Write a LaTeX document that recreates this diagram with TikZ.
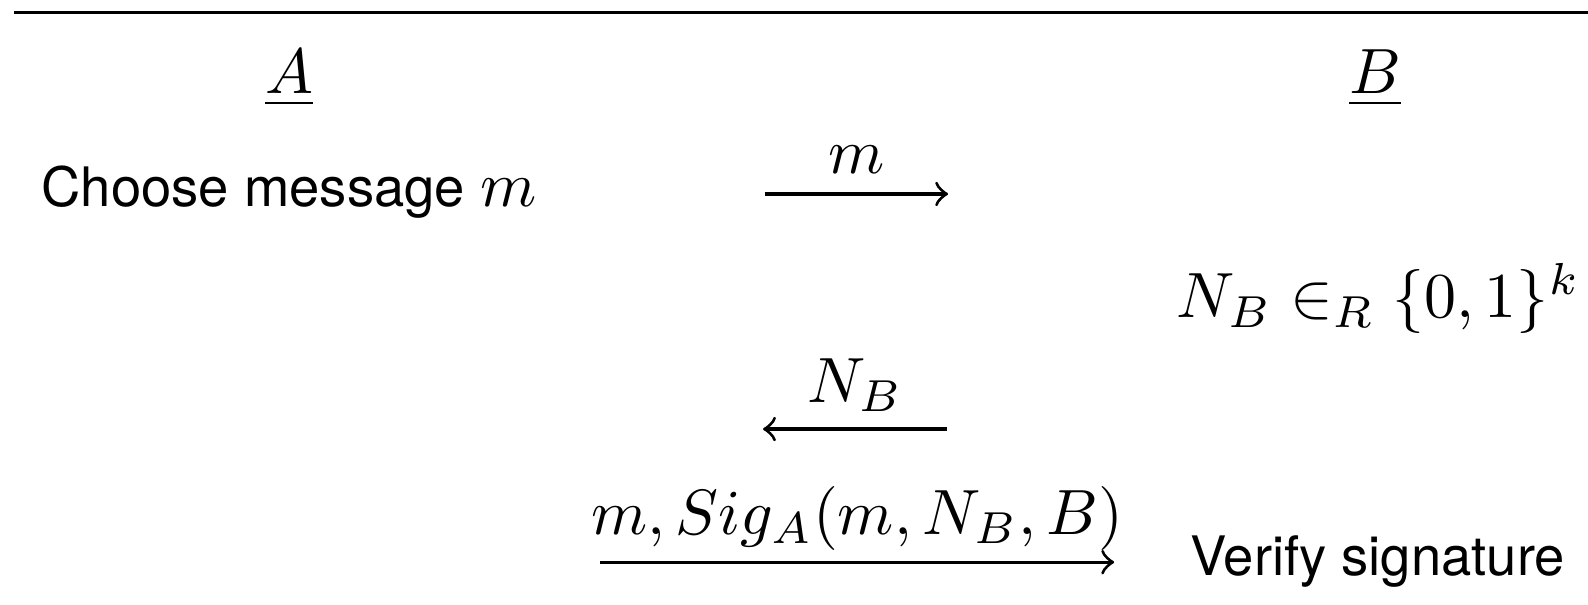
\documentclass[tikz,border=0pt]{standalone}
\usepackage{fontspec}
\newfontfamily\heros[Scale=0.85]{TeX Gyre Heros}

\tikzset{
  party/.style={anchor=base, inner sep=0pt},
  msg/.style={anchor=base, inner sep=0pt},
  txt/.style={anchor=base west, inner sep=0pt, font=\heros},
  flow/.style={->, line width=0.5pt},
}

\begin{document}
\begin{tikzpicture}
  \useasboundingbox (0,0) rectangle (8.72,-3.32);

  \coordinate (ruleL) at (0.077,-0.069);
  \coordinate (ruleR) at (8.72,-0.069);
  \draw[line width=0.5pt] (ruleL) -- (ruleR);

  \node[party] (A) at (1.587,-0.516) {$\underline{A}$};
  \node[party] (B) at (7.552,-0.516) {$\underline{B}$};

  \node[txt] (choose) at (0.222,-1.135) {Choose message $m$};

  \coordinate (m1L) at (4.201,-1.065);
  \coordinate (m1R) at (5.206,-1.065);
  \draw[flow] (m1L) -- (m1R);
  \node[msg] (m1) at (4.703,-0.950) {$m$};

  \node[party, anchor=base west] (nonce) at (6.455,-1.746) {$N_B \in_R \{0,1\}^k$};

  \coordinate (m2L) at (4.190,-2.356);
  \coordinate (m2R) at (5.201,-2.356);
  \draw[flow] (m2R) -- (m2L);
  \node[msg] (m2) at (4.696,-2.208) {$N_B$};

  \coordinate (m3L) at (3.295,-3.087);
  \coordinate (m3R) at (6.118,-3.087);
  \draw[flow] (m3L) -- (m3R);
  \node[msg] (m3) at (4.707,-2.933) {$m, Sig_A(m, N_B, B)$};

  \node[txt] (verify) at (6.530,-3.158) {Verify signature};
\end{tikzpicture}
\end{document}
